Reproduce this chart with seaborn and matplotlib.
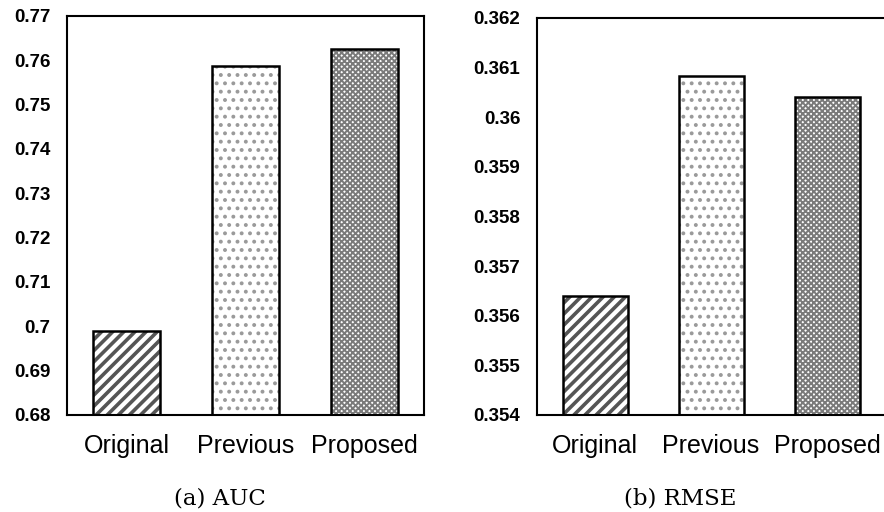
import numpy as np
import pandas as pd
import matplotlib
matplotlib.use("Agg")
import matplotlib.pyplot as plt
import seaborn as sns

# dados
metodos = ["Original", "Previous", "Proposed"]
auc = [0.6990, 0.7587, 0.7625]
rmse = [0.35639, 0.36083, 0.36040]
auc_ticks = [0.68, 0.69, 0.70, 0.71, 0.72, 0.73, 0.74, 0.75, 0.76, 0.77]
auc_labels = ["0.68", "0.69", "0.7", "0.71", "0.72", "0.73", "0.74", "0.75", "0.76", "0.77"]
rmse_ticks = [0.354, 0.355, 0.356, 0.357, 0.358, 0.359, 0.360, 0.361, 0.362]
rmse_labels = ["0.354", "0.355", "0.356", "0.357", "0.358", "0.359", "0.36", "0.361", "0.362"]
legendas = ["(a) AUC", "(b) RMSE"]

sns.set_style("white")
plt.rcParams["font.family"] = ["Liberation Sans", "DejaVu Sans"]
plt.rcParams["text.color"] = "black"
plt.rcParams["xtick.color"] = "black"
plt.rcParams["ytick.color"] = "black"
plt.rcParams["hatch.linewidth"] = 2.0

hachuras = ["///", "..", "xxxxxx"]
cores_hachura = ["#555555", "#9a9a9a", "#7a7a7a"]
larg_hachura = [2.6, 1.6, 1.4]

fig = plt.figure(figsize=(8.84, 5.12), dpi=100)
ax1 = fig.add_axes([0.0758, 0.1895, 0.4038, 0.7793])
ax2 = fig.add_axes([0.6075, 0.1895, 0.3937, 0.7754])


def desenha(ax, valores, ticks, labels, ymin, ymax):
    df = pd.DataFrame({"metodo": metodos, "valor": valores})
    # primeira passada: hachuras
    sns.barplot(data=df, x="metodo", y="valor", ax=ax, color="white",
                width=0.56, linewidth=0, saturation=1)
    for i, p in enumerate(ax.patches):
        p.set_hatch(hachuras[i])
        p.set_edgecolor(cores_hachura[i])
        p.set_linewidth(0)
        if hasattr(p, "set_hatch_linewidth"):
            p.set_hatch_linewidth(larg_hachura[i])
    # segunda passada: contorno preto
    sns.barplot(data=df, x="metodo", y="valor", ax=ax, fill=False,
                edgecolor="black", width=0.56, linewidth=1.8)
    ax.set_ylim(ymin, ymax)
    ax.set_xlim(-0.5, 2.5)
    ax.set_yticks(ticks)
    ax.set_yticklabels(labels, fontweight="bold", fontsize=13.5, color="black")
    ax.tick_params(axis="y", length=0, pad=12)
    ax.tick_params(axis="x", length=0, pad=14, labelsize=18, labelcolor="black")
    ax.set_xlabel("")
    ax.set_ylabel("")
    for s in ax.spines.values():
        s.set_color("black")
        s.set_linewidth(1.5)


desenha(ax1, auc, auc_ticks, auc_labels, 0.68, 0.77)
desenha(ax2, rmse, rmse_ticks, rmse_labels, 0.354, 0.362)

fig.text(0.249, 0.027, legendas[0], ha="center", va="center", fontsize=16.5,
         family=["DejaVu Serif"], color="black")
fig.text(0.769, 0.027, legendas[1], ha="center", va="center", fontsize=16.5,
         family=["DejaVu Serif"], color="black")

fig.savefig("out.png", dpi=100)
